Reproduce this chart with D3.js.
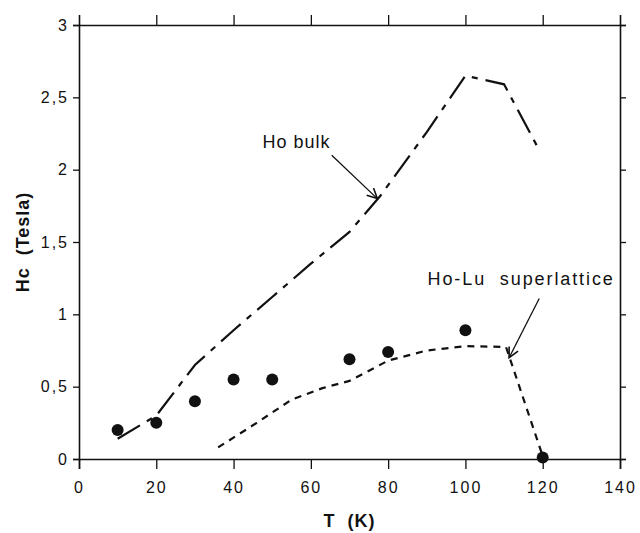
<!DOCTYPE html>
<html><head><meta charset="utf-8">
<script src="https://cdn.jsdelivr.net/npm/d3@7"></script>
<style>
html,body{margin:0;padding:0;background:#fff;}
text{font-family:"Liberation Sans",Arial,sans-serif;fill:#111;}
</style></head>
<body><svg id="c" width="640" height="533"></svg>
<script>
// Data
const dotT = [10, 20, 30, 40, 50, 70, 80, 100, 120];
const dotHc = [0.20, 0.25, 0.40, 0.55, 0.55, 0.69, 0.74, 0.89, 0.01];
const bulkT = [10, 20, 30, 40, 50, 60, 70, 78, 90, 100, 110, 119];
const bulkHc = [0.14, 0.30, 0.65, 0.89, 1.12, 1.35, 1.57, 1.82, 2.26, 2.65, 2.59, 2.14];
const slT = [36, 46, 55, 63, 70, 80, 90, 100, 110.5, 120];
const slHc = [0.08, 0.25, 0.41, 0.49, 0.54, 0.68, 0.75, 0.78, 0.775, 0.02];
const xTicks = [0, 20, 40, 60, 80, 100, 120, 140];
const yTicks = [0, 0.5, 1, 1.5, 2, 2.5, 3];
const yTickLabels = ["0", "0,5", "1", "1,5", "2", "2,5", "3"];
const labels = [
  {text: "Ho bulk", t: 47.5, h: 2.15, ls: 1, at: [65.4, 2.10], to: [77.2, 1.80]},
  {text: "Ho-Lu  superlattice", t: 90.2, h: 1.20, ls: 1.9, at: [119.1, 1.11], to: [111.3, 0.70]}
];

const svg = d3.select("#c");
const x = d3.scaleLinear().domain([0, 140]).range([79, 620]);
const y = d3.scaleLinear().domain([0, 3]).range([459, 25]);
const ink = "#111";

// axes
const fmtY = d => yTickLabels[yTicks.indexOf(d)];
const ax = [
  {g: d3.axisBottom(x).tickValues(xTicks).tickSize(10).tickPadding(13).tickFormat(d3.format("d")), tr: `translate(0,${y(0)})`},
  {g: d3.axisTop(x).tickValues(xTicks.slice(1, -1)).tickSize(10).tickFormat(""), tr: `translate(0,${y(3)})`},
  {g: d3.axisLeft(y).tickValues(yTicks).tickSize(6).tickPadding(4).tickFormat(fmtY), tr: `translate(${x(0)},0)`},
  {g: d3.axisRight(y).tickValues(yTicks).tickSize(6).tickFormat(""), tr: `translate(${x(140)},0)`}
];
ax.forEach(a => {
  const g = svg.append("g").attr("transform", a.tr).call(a.g);
  g.select(".domain").attr("stroke", ink).attr("stroke-width", 1.6);
  g.selectAll(".tick line").attr("stroke", ink).attr("stroke-width", 1.3);
  g.selectAll(".tick text").attr("font-size", 16).attr("letter-spacing", "2px")
    .attr("font-family", "Liberation Sans, Arial, sans-serif").attr("fill", ink);
});

// lines
const line = d3.line().x(d => x(d[0])).y(d => y(d[1]));
svg.append("path").datum(bulkT.map((t, i) => [t, bulkHc[i]]))
  .attr("d", line).attr("fill", "none").attr("stroke", ink).attr("stroke-width", 2.2)
  .attr("stroke-dasharray", "26,8,6,8");
svg.append("path").datum(slT.map((t, i) => [t, slHc[i]]))
  .attr("d", line).attr("fill", "none").attr("stroke", ink).attr("stroke-width", 2.2)
  .attr("stroke-dasharray", "7,6");

// dots
svg.selectAll("circle.d").data(dotT.map((t, i) => [t, dotHc[i]])).join("circle")
  .attr("cx", d => x(d[0])).attr("cy", d => y(d[1])).attr("r", 6).attr("fill", ink);

// annotations
svg.append("defs").append("marker").attr("id", "ah")
  .attr("viewBox", "0 0 12 12").attr("refX", 11).attr("refY", 6)
  .attr("markerWidth", 12).attr("markerHeight", 12).attr("markerUnits", "userSpaceOnUse")
  .attr("orient", "auto")
  .append("path").attr("d", "M1,1 L11,6 L1,11").attr("fill", "none").attr("stroke", ink).attr("stroke-width", 1.6);
labels.forEach(l => {
  svg.append("text").attr("x", x(l.t)).attr("y", y(l.h)).attr("font-size", 18)
    .style("white-space", "pre")
    .attr("letter-spacing", l.ls + "px").text(l.text);
  svg.append("line").attr("x1", x(l.at[0])).attr("y1", y(l.at[1]))
    .attr("x2", x(l.to[0])).attr("y2", y(l.to[1]))
    .attr("stroke", ink).attr("stroke-width", 1.3).attr("marker-end", "url(#ah)");
});

// titles
svg.append("text").attr("x", (x(0) + x(140)) / 2).attr("y", 527).attr("text-anchor", "middle")
  .attr("font-size", 18).attr("font-weight", "bold").attr("letter-spacing", "1px")
  .style("white-space", "pre").text("T  (K)");
svg.append("text").attr("transform", `translate(29,${(y(0) + y(3)) / 2}) rotate(-90)`)
  .attr("text-anchor", "middle").attr("font-size", 18).attr("font-weight", "bold")
  .attr("letter-spacing", "1px").style("white-space", "pre").text("Hc  (Tesla)");
</script></body></html>
